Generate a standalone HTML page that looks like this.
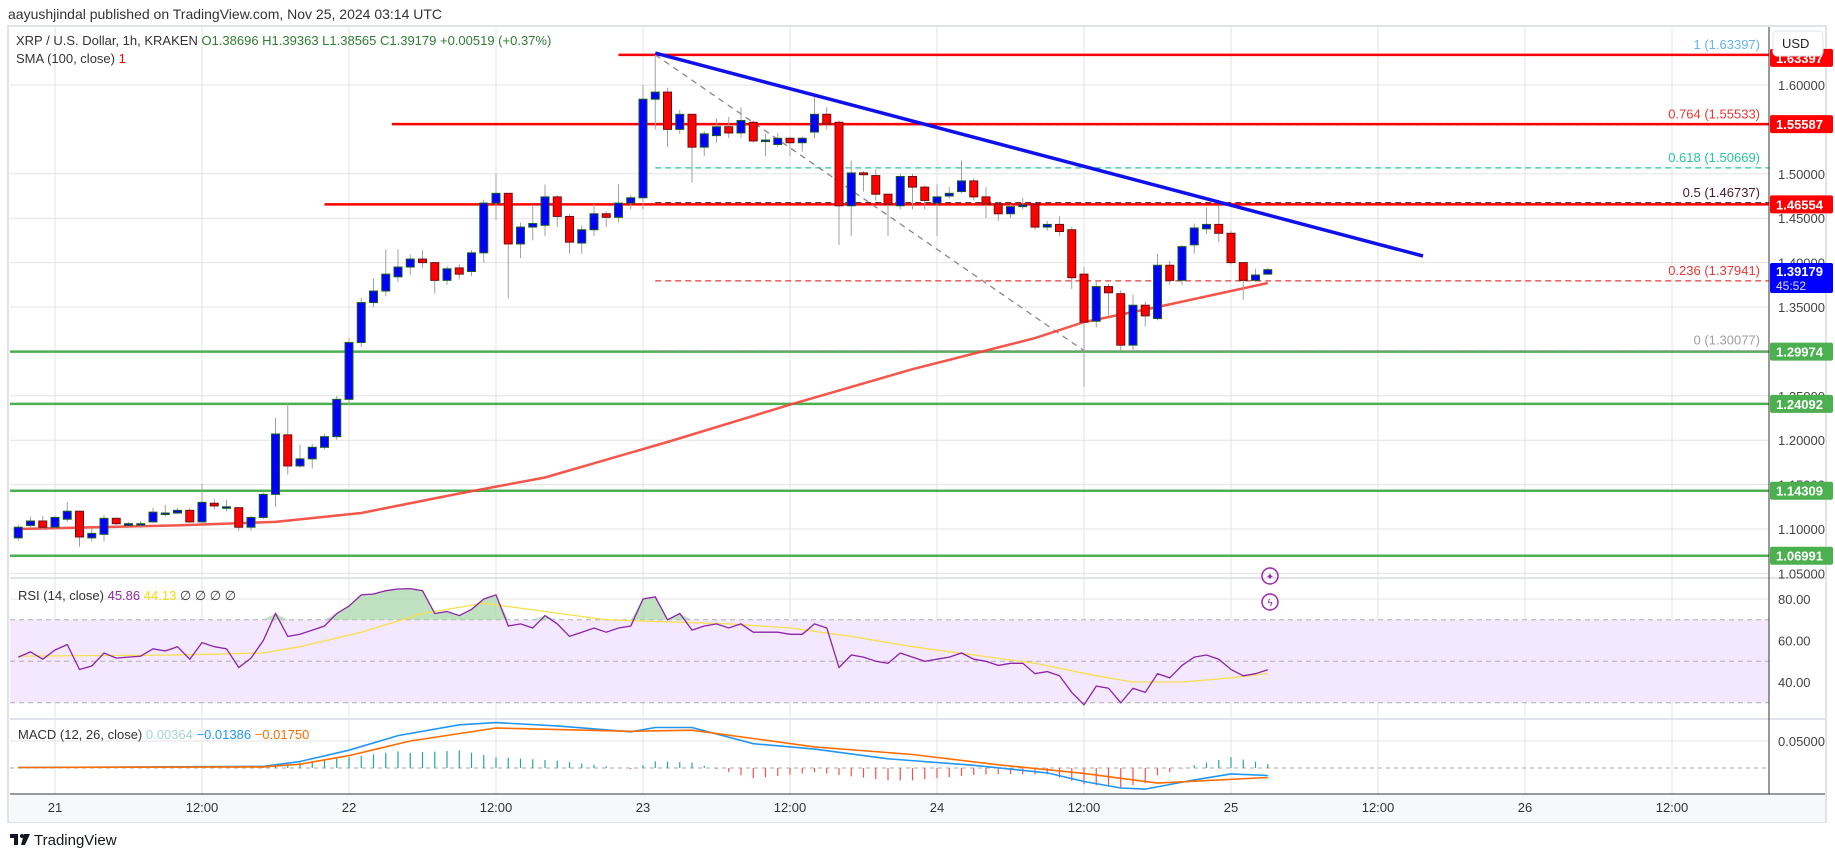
<!DOCTYPE html>
<html><head><meta charset="utf-8"><style>
html,body{margin:0;padding:0;background:#fff;}
svg{display:block;font-family:"Liberation Sans",sans-serif;}
</style></head><body>
<svg id="c" width="1835" height="857" viewBox="0 0 1835 857" xmlns="http://www.w3.org/2000/svg">
<rect x="0" y="0" width="1835" height="857" fill="#fff"/>
<text x="8" y="19" font-size="14" fill="#333">aayushjindal published on TradingView.com, Nov 25, 2024 03:14 UTC</text>
<rect x="8" y="26" width="1818" height="796" fill="none" stroke="#e0e3eb" stroke-width="2"/>
<rect x="10" y="795" width="1815" height="27" fill="#f7f8fa"/>
<g id="grid"></g>
<g id="main"></g>
<g id="rsi"></g>
<g id="macd"></g>
<g id="axes"></g>
<text x="16" y="45" font-size="13" fill="#333">XRP / U.S. Dollar, 1h, KRAKEN <tspan fill="#2e7d32">O1.38696  H1.39363  L1.38565  C1.39179  +0.00519 (+0.37%)</tspan></text>
<text x="16" y="63" font-size="13" fill="#333">SMA (100, close) <tspan fill="#f00">1</tspan></text>
<text x="18" y="600" font-size="13" fill="#333">RSI (14, close) <tspan fill="#8e24aa">45.86</tspan> <tspan fill="#f5d90a">44.13</tspan>  ∅  ∅  ∅  ∅</text>
<text x="18" y="739" font-size="13" fill="#333">MACD (12, 26, close) <tspan fill="#a5d6d0">0.00364</tspan> <tspan fill="#2196f3">−0.01386</tspan> <tspan fill="#ff6d00">−0.01750</tspan></text>
<g><rect x="10" y="834" width="8" height="4" fill="#131722"/><rect x="14" y="834" width="4" height="11" fill="#131722"/><circle cx="22" cy="836" r="2" fill="#131722"/><path d="M24 834 L30 834 L25 845 L21 845 Z" fill="#131722"/><text x="34" y="845" font-size="15" fill="#131722">TradingView</text></g>
<g><circle cx="1270" cy="576" r="8" fill="none" stroke="#9c27b0" stroke-width="1.5"/><text x="1270" y="580" font-size="10" fill="#9c27b0" text-anchor="middle">✦</text><circle cx="1270" cy="602" r="8" fill="none" stroke="#9c27b0" stroke-width="1.5"/><text x="1270" y="606" font-size="10" fill="#9c27b0" text-anchor="middle">ϟ</text></g>
</svg>
<script>
// ---- data ----
const hourStart = -3;
const opens  = [1.090,1.104,1.109,1.102,1.111,1.120,1.090,1.094,1.112,1.104,1.106,1.108,1.118,1.118,1.121,1.108,1.129,1.125,1.124,1.102,1.113,1.139,1.206,1.171,1.179,1.192,1.204,1.246,1.31,1.355,1.368,1.384,1.395,1.404,1.40,1.380,1.394,1.390,1.411,1.467,1.478,1.421,1.44,1.442,1.474,1.452,1.422,1.437,1.455,1.451,1.467,1.473,1.584,1.592,1.55,1.567,1.53,1.543,1.553,1.546,1.558,1.538,1.533,1.540,1.535,1.547,1.567,1.558,1.464,1.501,1.498,1.477,1.464,1.497,1.485,1.467,1.475,1.48,1.492,1.474,1.466,1.455,1.463,1.466,1.44,1.443,1.437,1.387,1.334,1.373,1.365,1.307,1.352,1.337,1.397,1.38,1.42,1.438,1.443,1.433,1.40,1.38,1.387];
const closes = [1.102,1.109,1.102,1.113,1.120,1.091,1.095,1.112,1.106,1.106,1.106,1.119,1.118,1.121,1.108,1.130,1.126,1.125,1.102,1.113,1.139,1.207,1.171,1.179,1.192,1.204,1.246,1.31,1.355,1.368,1.387,1.395,1.404,1.40,1.38,1.393,1.387,1.411,1.467,1.478,1.421,1.44,1.444,1.474,1.452,1.423,1.437,1.455,1.451,1.467,1.473,1.584,1.592,1.55,1.567,1.53,1.545,1.553,1.546,1.56,1.537,1.538,1.540,1.535,1.540,1.567,1.556,1.464,1.501,1.499,1.477,1.466,1.497,1.485,1.47,1.474,1.478,1.492,1.474,1.466,1.455,1.463,1.465,1.44,1.443,1.435,1.383,1.333,1.373,1.366,1.307,1.352,1.34,1.397,1.38,1.418,1.439,1.443,1.433,1.40,1.38,1.386,1.392];
const highs  = [1.105,1.114,1.115,1.115,1.130,1.121,1.101,1.116,1.113,1.108,1.109,1.124,1.127,1.124,1.124,1.151,1.134,1.133,1.124,1.115,1.141,1.225,1.242,1.195,1.196,1.207,1.250,1.315,1.36,1.382,1.415,1.415,1.409,1.414,1.40,1.396,1.398,1.414,1.471,1.50,1.478,1.445,1.465,1.488,1.476,1.455,1.442,1.466,1.458,1.488,1.476,1.60,1.634,1.597,1.572,1.567,1.548,1.562,1.564,1.575,1.56,1.545,1.546,1.542,1.542,1.59,1.575,1.56,1.515,1.503,1.505,1.478,1.50,1.50,1.487,1.488,1.485,1.515,1.495,1.485,1.468,1.466,1.473,1.467,1.447,1.452,1.44,1.395,1.38,1.376,1.369,1.364,1.356,1.41,1.402,1.42,1.444,1.462,1.464,1.436,1.40,1.393,1.394];
const lows   = [1.087,1.102,1.100,1.100,1.108,1.080,1.086,1.086,1.103,1.103,1.101,1.107,1.114,1.117,1.107,1.107,1.122,1.120,1.098,1.098,1.111,1.125,1.161,1.169,1.168,1.190,1.200,1.24,1.305,1.35,1.362,1.378,1.386,1.394,1.365,1.375,1.381,1.385,1.40,1.448,1.36,1.405,1.425,1.43,1.44,1.41,1.41,1.43,1.44,1.445,1.46,1.46,1.55,1.53,1.545,1.49,1.52,1.535,1.54,1.54,1.535,1.52,1.53,1.52,1.525,1.54,1.55,1.42,1.43,1.48,1.47,1.43,1.46,1.46,1.46,1.43,1.472,1.478,1.47,1.45,1.447,1.45,1.46,1.437,1.436,1.43,1.37,1.26,1.327,1.34,1.30,1.30,1.328,1.335,1.375,1.375,1.41,1.432,1.423,1.398,1.358,1.378,1.386];
const smaHours = [-3,10,18,25,33,40,50,60,70,80,84,90,99];
const smaVals  = [1.100,1.104,1.108,1.118,1.140,1.158,1.198,1.24,1.28,1.315,1.333,1.35,1.377];
const rsiVals = [52,54.5,51,55.4,58,46,47.7,54,51.5,52,52.5,56,55,57,51,59,57,56,47,51.5,60,73,62,63,65,67,73,76.6,82,82.4,84,84.8,85,84,73,74,72,75,80,82,67,68,66,72,68,62,64,66,64,66,67,80,81,70,73,65,67,68,66,68,64,64,64,63,63,68,66,47,53,52,50,49,54,52,50,51,52,54,51,50,48,49,49,44,45,43,35,29,38,37,30,37,35,44,42,48,52,53,51,46,43,44,45.86];
const rsiMaHours = [-3,10,17,20,25,30,35,40,45,50,55,60,65,70,75,80,85,88,92,96,99];
const rsiMaVals  = [52.5,53,54,57,64,73,78,74,70,69,68,66,62,57,53,49,43,40,40,42,44.13];
const macdHours = [-3,17,20,24,28,33,36,41,47,49,52,57,62,68,75,81,84,87,89,93,96,99];
const macdVals  = [0.001,0.003,0.012,0.033,0.060,0.080,0.084,0.078,0.067,0.075,0.075,0.045,0.035,0.017,0.005,-0.009,-0.025,-0.037,-0.039,-0.022,-0.011,-0.01386];
const sigHours = [-3,17,20,24,29,36,47,52,62,70,77,84,90,99];
const sigVals  = [0.001,0.002,0.007,0.023,0.050,0.074,0.068,0.070,0.039,0.025,0.006,-0.010,-0.028,-0.0175];
const priceTicks = ["1.60000","1.50000","1.45000","1.40000","1.35000","1.25000","1.20000","1.15000","1.10000","1.05000"];
const timeLabels = ["21","12:00","22","12:00","23","12:00","24","12:00","25","12:00","26","12:00"];
const supportLevels = [1.29974,1.24092,1.14309,1.06991];
const resistLevels = [1.63397,1.55587,1.46554];
const resistStartHour = [46,27.5,22];
const fibRatios = ["1","0.764","0.618","0.5","0.236","0"];
const fibPrices = [1.63397,1.55533,1.50669,1.46737,1.37941,1.30077];
const fibColors = ["#64b5f6","#e53935","#26c6a0","#4a1c2a","#e53935","#9e9e9e"];
// ---- scales ----
const X0=10, X1=1769;
const x = h => 55 + h*12.25;
const y = p => 85 + (1.6-p)*888;
const yR = v => 599 + (80-v)*2.075;
const yM = v => 768 - v*540;
const NS="http://www.w3.org/2000/svg";
function mk(parent,tag,attrs,text){const e=document.createElementNS(NS,tag);for(const k in attrs)e.setAttribute(k,attrs[k]);if(text!==undefined)e.textContent=text;document.getElementById(parent).appendChild(e);return e;}
const kp=(hs,vs,f)=>hs.map((h,i)=>x(h).toFixed(1)+","+f(vs[i]).toFixed(1)).join(" ");
// grid
for(let k=-1;k<12;k++){const gx=55+147*k; if(gx<X0)continue;
 const l=mk('grid','line',{x1:gx,x2:gx,y1:27,y2:794,stroke:'#e3e3e3'});
 
 }
priceTicks.forEach(t=>{const l=mk('grid','line',{x1:X0,x2:X1,y1:y(+t),y2:y(+t),stroke:'#e3e3e3'});
 
 });
[80,60,40].forEach(v=>{const l=mk('grid','line',{x1:X0,x2:X1,y1:yR(v),y2:yR(v),stroke:'#e3e3e3'});
 
 });
const mg=mk('grid','line',{x1:X0,x2:X1,y1:yM(0.05),y2:yM(0.05),stroke:'#e3e3e3'});


[578,719].forEach(py=>{const l=mk('grid','line',{x1:X0,x2:1825,y1:py,y2:py,stroke:'#e0e3eb',"stroke-width":2});
 
 });
// support/resistance
supportLevels.forEach(p=>{const l=mk('main','line',{x1:X0,x2:X1,y1:y(p),y2:y(p),stroke:'#4caf50',"stroke-width":2.5});
 
 });
// fib
fibPrices.forEach((p,i)=>{const l=mk('main','line',{x1:x(49),x2:X1,y1:y(p),y2:y(p),stroke:fibColors[i],"stroke-width":1.3,"stroke-dasharray":"6,4"});
 
 
 const t=mk('main','text',{x:1760,y:y(p)-6,"font-size":13,fill:fibColors[i],"text-anchor":"end"},fibRatios[i]+" ("+p.toFixed(5)+")");
 
 });
resistLevels.forEach((p,i)=>{const l=mk('main','line',{x1:x(resistStartHour[i]),x2:X1,y1:y(p),y2:y(p),stroke:'#ff0000',"stroke-width":2.5});
 
 });
const fd=mk('main','line',{x1:x(49),y1:y(1.63397),x2:x(84),y2:y(1.30077),stroke:'#888',"stroke-width":1.3,"stroke-dasharray":"6,5"});


// SMA
const sma=mk('main','polyline',{points:kp(smaHours,smaVals,y),fill:'none',stroke:'#f44336',"stroke-width":2.5,opacity:0.9});


// candles
opens.forEach((o,i)=>{const h=hourStart+i,c=closes[i],up=c>=o,cx=x(h);
 const w=mk('main','line',{x1:cx,x2:cx,y1:y(highs[i]),y2:y(lows[i]),stroke:'#a0a0a0'});
 
 
 const top=y(Math.max(o,c)),bh=Math.max(1.5,Math.abs(y(o)-y(c)));
 const b=mk('main','rect',{x:cx-4,y:top,width:8,height:bh,fill:up?'#0000ff':'#ff0000',stroke:up?'#1b5e20':'#6d1010',"stroke-width":1});
 
 });
// trendline
const tl=mk('main','line',{x1:x(49),y1:y(1.636),x2:1423,y2:256,stroke:'#1010ee',"stroke-width":3.5});


// RSI
const band=mk('rsi','rect',{x:X0,y:yR(70),width:X1-X0,height:yR(30)-yR(70),fill:'#f3e8fd'});


[70,50,30].forEach(v=>{const l=mk('rsi','line',{x1:X0,x2:X1,y1:yR(v),y2:yR(v),stroke:'#b0b0b0',"stroke-dasharray":"5,4"});
 
 });
let fillPts=[];rsiVals.forEach((v,i)=>fillPts.push(x(hourStart+i).toFixed(1)+","+yR(Math.max(70,v)).toFixed(1)));
const rf=mk('rsi','polygon',{points:x(hourStart)+","+yR(70)+" "+fillPts.join(" ")+" "+x(hourStart+rsiVals.length-1)+","+yR(70),fill:'#a5d6a7',opacity:0.7});


const rma=mk('rsi','polyline',{points:kp(rsiMaHours,rsiMaVals,yR),fill:'none',stroke:'#f5e050',"stroke-width":1.3});


const rl=mk('rsi','polyline',{points:rsiVals.map((v,i)=>x(hourStart+i).toFixed(1)+","+yR(v).toFixed(1)).join(" "),fill:'none',stroke:'#8e24aa',"stroke-width":1.3});


// MACD
const z=mk('macd','line',{x1:X0,x2:X1,y1:yM(0),y2:yM(0),stroke:'#aaa',"stroke-dasharray":"4,4"});


function interp(hs,vs,h){for(let i=0;i<hs.length-1;i++){if(h>=hs[i]&&h<=hs[i+1])return vs[i]+(vs[i+1]-vs[i])*(h-hs[i])/(hs[i+1]-hs[i]);}return vs[vs.length-1];}
for(let h=hourStart;h<=99;h++){const d=(interp(macdHours,macdVals,h)-interp(sigHours,sigVals,h))*2;
 const b=mk('macd','line',{x1:x(h),x2:x(h),y1:yM(0),y2:yM(d),stroke:d>=0?'#26a69a':'#ef5350',"stroke-width":1.2});
 
 }
const ml=mk('macd','polyline',{points:kp(macdHours,macdVals,yM),fill:'none',stroke:'#2196f3',"stroke-width":1.6});


const sl=mk('macd','polyline',{points:kp(sigHours,sigVals,yM),fill:'none',stroke:'#ff6d00',"stroke-width":1.6});


// axes
const ax=mk('axes','line',{x1:X1,x2:X1,y1:27,y2:794,stroke:'#333'});


const xl=mk('axes','line',{x1:X0,x2:1825,y1:794,y2:794,stroke:'#333'});


priceTicks.forEach(t=>{const e=mk('axes','text',{x:1778,y:y(+t)+5,"font-size":13,fill:'#444'},t);
 
 });
[["80.00",80],["60.00",60],["40.00",40]].forEach(a=>{const e=mk('axes','text',{x:1778,y:yR(a[1])+5,"font-size":13,fill:'#444'},a[0]);
 
 });
const m5=mk('axes','text',{x:1778,y:yM(0.05)+5,"font-size":13,fill:'#444'},"0.05000");


timeLabels.forEach((t,i)=>{const e=mk('axes','text',{x:55+147*i,y:812,"font-size":13,fill:'#333',"text-anchor":"middle"},t);
 
 });
function tag(p,col,label,name,dy){const r=mk('axes','rect',{x:1770,y:y(p)-9+dy,width:63,height:18,fill:col,rx:2});
 
 
 const t=mk('axes','text',{x:1776,y:y(p)+5+dy,"font-size":13,"font-weight":"bold",fill:'#fff'},label);
 
 }
tag(1.63397,'#ff0000','1.63397','resistance-price-tag',3);
tag(1.55587,'#ff0000','1.55587','resistance-price-tag',0);
tag(1.46554,'#ff0000','1.46554','resistance-price-tag',0);
supportLevels.forEach(p=>tag(p,'#4caf50',p.toFixed(5),'support-price-tag',0));
const lr=mk('axes','rect',{x:1770,y:263,width:63,height:30,fill:'#0000ff',rx:2});


const lt=mk('axes','text',{x:1776,y:276,"font-size":13,"font-weight":"bold",fill:'#fff'},"1.39179");


const lt2=mk('axes','text',{x:1776,y:290,"font-size":12,fill:'#dde'},"45:52");


const ur=mk('axes','rect',{x:1773,y:31,width:50,height:25,fill:'#fff',stroke:'#e0e3eb',rx:4});


const ut=mk('axes','text',{x:1782,y:48,"font-size":13,fill:'#222'},"USD");


</script>
</body></html>
